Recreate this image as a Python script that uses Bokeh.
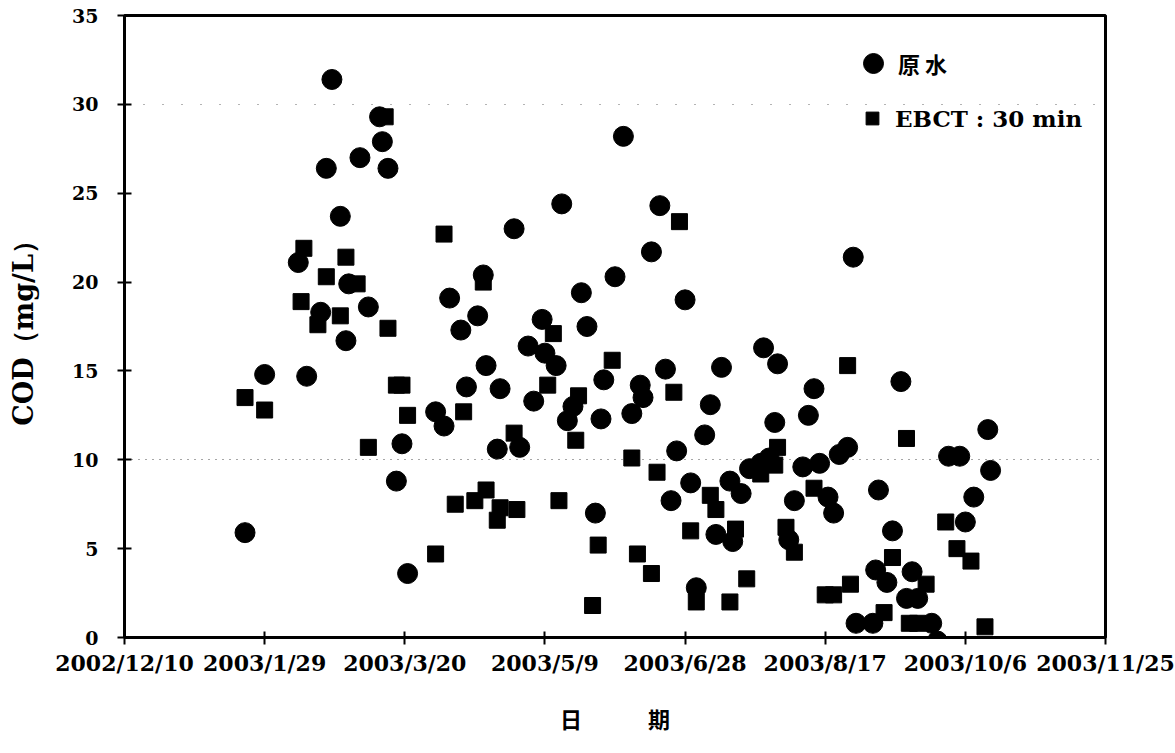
from datetime import datetime

import pandas as pd
from bokeh.plotting import figure
from bokeh.models import (ColumnDataSource, FixedTicker, Legend, LegendItem,
                          Grid, Range1d)
from bokeh.embed import file_html
from bokeh.resources import INLINE

# ---- data -------------------------------------------------------------
raw_dates = [
    "2003-01-22", "2003-01-29", "2003-02-10", "2003-02-13", "2003-02-18",
    "2003-02-20", "2003-02-22", "2003-02-25", "2003-02-27", "2003-02-28",
    "2003-03-04", "2003-03-07", "2003-03-11", "2003-03-12", "2003-03-14",
    "2003-03-17", "2003-03-19", "2003-03-21", "2003-03-31", "2003-04-03",
    "2003-04-05", "2003-04-09", "2003-04-11", "2003-04-15", "2003-04-17",
    "2003-04-18", "2003-04-22", "2003-04-23", "2003-04-28", "2003-04-30",
    "2003-05-03", "2003-05-05", "2003-05-08", "2003-05-09", "2003-05-13",
    "2003-05-15", "2003-05-17", "2003-05-19", "2003-05-22", "2003-05-24",
    "2003-05-27", "2003-05-29", "2003-05-30", "2003-06-03", "2003-06-06",
    "2003-06-09", "2003-06-12", "2003-06-13", "2003-06-16", "2003-06-19",
    "2003-06-21", "2003-06-23", "2003-06-25", "2003-06-28", "2003-06-30",
    "2003-07-02", "2003-07-05", "2003-07-07", "2003-07-09", "2003-07-11",
    "2003-07-14", "2003-07-15", "2003-07-18", "2003-07-21", "2003-07-25",
    "2003-07-26", "2003-07-28", "2003-07-30", "2003-07-31", "2003-08-04",
    "2003-08-06", "2003-08-09", "2003-08-11", "2003-08-13", "2003-08-15",
    "2003-08-18", "2003-08-20", "2003-08-22", "2003-08-25", "2003-08-27",
    "2003-08-28", "2003-09-03", "2003-09-04", "2003-09-05", "2003-09-08",
    "2003-09-10", "2003-09-13", "2003-09-15", "2003-09-17", "2003-09-19",
    "2003-09-24", "2003-09-26", "2003-09-30", "2003-10-04", "2003-10-06",
    "2003-10-09", "2003-10-14", "2003-10-15",
]
raw_cod = [
    5.9, 14.8, 21.1, 14.7, 18.3,
    26.4, 31.4, 23.7, 16.7, 19.9,
    27.0, 18.6, 29.3, 27.9, 26.4,
    8.8, 10.9, 3.6, 12.7, 11.9,
    19.1, 17.3, 14.1, 18.1, 20.4,
    15.3, 10.6, 14.0, 23.0, 10.7,
    16.4, 13.3, 17.9, 16.0, 15.3,
    24.4, 12.2, 13.0, 19.4, 17.5,
    7.0, 12.3, 14.5, 20.3, 28.2,
    12.6, 14.2, 13.5, 21.7, 24.3,
    15.1, 7.7, 10.5, 19.0, 8.7,
    2.8, 11.4, 13.1, 5.8, 15.2,
    8.8, 5.4, 8.1, 9.5, 9.8,
    16.3, 10.1, 12.1, 15.4, 5.5,
    7.7, 9.6, 12.5, 14.0, 9.8,
    7.9, 7.0, 10.3, 10.7, 21.4,
    0.8, 0.8, 3.8, 8.3, 3.1,
    6.0, 14.4, 2.2, 3.7, 2.2,
    0.8, -0.2, 10.2, 10.2, 6.5,
    7.9, 11.7, 9.4,
]

ebct_dates = [
    "2003-01-22", "2003-01-29", "2003-02-11", "2003-02-12", "2003-02-17",
    "2003-02-20", "2003-02-25", "2003-02-27", "2003-03-03", "2003-03-07",
    "2003-03-13", "2003-03-14", "2003-03-17", "2003-03-19", "2003-03-21",
    "2003-03-31", "2003-04-03", "2003-04-07", "2003-04-10", "2003-04-14",
    "2003-04-17", "2003-04-18", "2003-04-22", "2003-04-23", "2003-04-28",
    "2003-04-29", "2003-05-10", "2003-05-12", "2003-05-14", "2003-05-20",
    "2003-05-21", "2003-05-26", "2003-05-28", "2003-06-02", "2003-06-09",
    "2003-06-11", "2003-06-16", "2003-06-18", "2003-06-24", "2003-06-26",
    "2003-06-30", "2003-07-02", "2003-07-07", "2003-07-09", "2003-07-14",
    "2003-07-16", "2003-07-20", "2003-07-25", "2003-07-30", "2003-07-31",
    "2003-08-03", "2003-08-06", "2003-08-13", "2003-08-17", "2003-08-20",
    "2003-08-25", "2003-08-26", "2003-09-07", "2003-09-10", "2003-09-15",
    "2003-09-16", "2003-09-19", "2003-09-22", "2003-09-29", "2003-10-03",
    "2003-10-08", "2003-10-13",
]
ebct_cod = [
    13.5, 12.8, 18.9, 21.9, 17.6,
    20.3, 18.1, 21.4, 19.9, 10.7,
    29.3, 17.4, 14.2, 14.2, 12.5,
    4.7, 22.7, 7.5, 12.7, 7.7,
    20.0, 8.3, 6.6, 7.3, 11.5,
    7.2, 14.2, 17.1, 7.7, 11.1,
    13.6, 1.8, 5.2, 15.6, 10.1,
    4.7, 3.6, 9.3, 13.8, 23.4,
    6.0, 2.0, 8.0, 7.2, 2.0,
    6.1, 3.3, 9.2, 9.7, 10.7,
    6.2, 4.8, 8.4, 2.4, 2.4,
    15.3, 3.0, 1.4, 4.5, 11.2,
    0.8, 0.8, 3.0, 6.5, 5.0,
    4.3, 0.6,
]

x_tick_labels = ["2002/12/10", "2003/1/29", "2003/3/20", "2003/5/9",
                 "2003/6/28", "2003/8/17", "2003/10/6", "2003/11/25"]
y_ticks = [0, 5, 10, 15, 20, 25, 30, 35]

legend_raw = "原 水"
legend_ebct = "EBCT : 30 min"
x_title = "日\u3000\u3000\u3000期"
y_title = "COD（mg/L）"

# ---- helpers ----------------------------------------------------------
def to_ms(ts):
    return pd.Timestamp(ts).value // 10**6

tick_ms = [to_ms(datetime.strptime(s, "%Y/%m/%d")) for s in x_tick_labels]

src_raw = ColumnDataSource(dict(date=pd.to_datetime(raw_dates), cod=raw_cod))
src_ebct = ColumnDataSource(dict(date=pd.to_datetime(ebct_dates), cod=ebct_cod))

SERIF = "DejaVu Serif"
CJK = "Noto Sans CJK TC"

p = figure(width=1175, height=753, x_axis_type="datetime",
           x_range=Range1d(tick_ms[0], tick_ms[-1]),
           y_range=Range1d(y_ticks[0], y_ticks[-1]),
           output_backend="svg", toolbar_location=None,
           min_border_left=124, min_border_right=70,
           min_border_top=15, min_border_bottom=116)

p.background_fill_color = "white"
p.border_fill_color = "white"
p.outline_line_color = "black"
p.outline_line_width = 3

# dotted reference lines
p.xgrid.visible = False
p.ygrid.ticker = FixedTicker(ticks=[10])
p.ygrid.grid_line_color = "black"
p.ygrid.grid_line_dash = "1 6"
p.ygrid.grid_line_width = 1
p.ygrid.grid_line_alpha = 0.7
grid30 = Grid(dimension=1, ticker=FixedTicker(ticks=[30]),
              grid_line_color="black", grid_line_dash="1 18",
              grid_line_width=1, grid_line_alpha=0.6)
p.add_layout(grid30)

# scatter series
r_raw = p.scatter(x="date", y="cod", source=src_raw, marker="circle",
                  size=20, fill_color="black", line_color="black")
r_ebct = p.scatter(x="date", y="cod", source=src_ebct, marker="square",
                   size=16, fill_color="black", line_color="black")

# axes
p.xaxis.ticker = FixedTicker(ticks=tick_ms)
p.xaxis.major_label_overrides = {t: lab for t, lab in zip(tick_ms, x_tick_labels)}
p.yaxis.ticker = FixedTicker(ticks=y_ticks)

for ax in (p.xaxis[0], p.yaxis[0]):
    ax.axis_line_color = "black"
    ax.axis_line_width = 3
    ax.major_tick_line_color = "black"
    ax.major_tick_line_width = 2
    ax.minor_tick_line_color = None
    ax.major_label_text_font = SERIF
    ax.major_label_text_font_style = "bold"
    ax.major_label_text_color = "black"
    ax.axis_label_text_color = "black"
    ax.axis_label_text_font_style = "bold"

p.xaxis.major_tick_in = 6
p.xaxis.major_tick_out = 7
p.xaxis.major_label_text_font_size = "22px"
p.xaxis.major_label_standoff = 5
p.xaxis.axis_label = x_title
p.xaxis.axis_label_text_font = CJK
p.xaxis.axis_label_text_font_size = "22px"
p.xaxis.axis_label_standoff = 23

p.yaxis.major_tick_in = 7
p.yaxis.major_tick_out = 7
p.yaxis.major_label_text_font_size = "19px"
p.yaxis.major_label_standoff = 19
p.yaxis.axis_label = y_title
p.yaxis.axis_label_text_font = SERIF
p.yaxis.axis_label_text_font_size = "27px"
p.yaxis.axis_label_standoff = 30

# legends (one per series so each marker keeps its own size)
leg_raw = Legend(items=[LegendItem(label=legend_raw, renderers=[r_raw])],
                 location=(724, 549), glyph_width=50, glyph_height=50,
                 label_standoff=0, padding=0, margin=0, spacing=0,
                 border_line_color=None, background_fill_alpha=0,
                 label_text_font=CJK, label_text_font_style="bold",
                 label_text_font_size="22px", label_text_color="black")
leg_ebct = Legend(items=[LegendItem(label=legend_ebct, renderers=[r_ebct])],
                  location=(732, 503), glyph_width=32, glyph_height=32,
                  label_standoff=7, padding=0, margin=0, spacing=0,
                  border_line_color=None, background_fill_alpha=0,
                  label_text_font=SERIF, label_text_font_style="bold",
                  label_text_font_size="23px", label_text_color="black")
p.add_layout(leg_raw)
p.add_layout(leg_ebct)

open("out.html", "w").write(file_html(p, INLINE))
